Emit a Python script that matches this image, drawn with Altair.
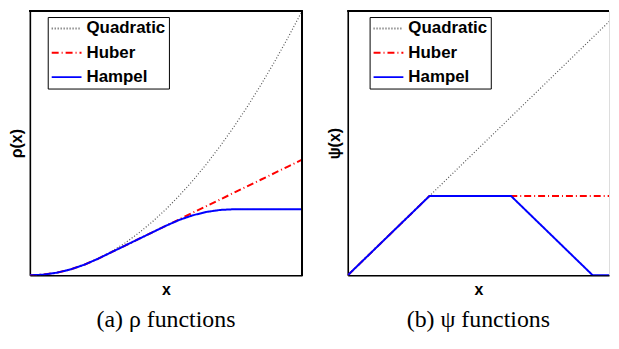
import altair as alt
import pandas as pd

series_names = ["Quadratic", "Huber", "Hampel"]
series_colors = ["#555555", "#ff0000", "#0000ff"]
series_dash = [[1, 2], [7, 3, 1, 3], [1, 0]]

# (a) rho functions
rho_x = [0, 0.2, 0.4, 0.6, 0.8, 1.0, 1.2, 1.4, 1.6, 1.8, 2.0, 2.2, 2.4, 2.6, 2.8, 3.0, 3.2, 3.4, 3.6, 3.8, 4.0]
rho_quadratic = [0, 0.02, 0.08, 0.18, 0.32, 0.5, 0.72, 0.98, 1.28, 1.62, 2.0, 2.42, 2.88, 3.38, 3.92, 4.5, 5.12, 5.78, 6.48, 7.22, 8.0]
rho_huber = [0, 0.02, 0.08, 0.18, 0.32, 0.5, 0.7, 0.9, 1.1, 1.3, 1.5, 1.7, 1.9, 2.1, 2.3, 2.5, 2.7, 2.9, 3.1, 3.3, 3.5]
rho_hampel = [0, 0.02, 0.08, 0.18, 0.32, 0.5, 0.7, 0.9, 1.1, 1.3, 1.5, 1.68, 1.82, 1.92, 1.98, 2.0, 2.0, 2.0, 2.0, 2.0, 2.0]

# (b) psi functions (right edge of the panel is cut off in the reference)
psi_quad_x = [0, 10]
psi_quadratic = [0, 10]
psi_huber_x = [0, 3, 10]
psi_huber = [0, 3, 3]
psi_hampel_x = [0, 3, 6, 9, 10]
psi_hampel = [0, 3, 3, 0, 0]

rho_df = pd.concat([
    pd.DataFrame({"x": rho_x, "y": rho_quadratic, "s": "Quadratic"}),
    pd.DataFrame({"x": rho_x, "y": rho_huber, "s": "Huber"}),
    pd.DataFrame({"x": rho_x, "y": rho_hampel, "s": "Hampel"}),
])
psi_df = pd.concat([
    pd.DataFrame({"x": psi_quad_x, "y": psi_quadratic, "s": "Quadratic"}),
    pd.DataFrame({"x": psi_huber_x, "y": psi_huber, "s": "Huber"}),
    pd.DataFrame({"x": psi_hampel_x, "y": psi_hampel, "s": "Hampel"}),
])

H = 266


def panel(df, xmin, xmax, ymax, width, ytitle, caption, legend_x, right_border):
    legend = alt.Legend(
        title=None, orient="none", legendX=legend_x, legendY=6,
        strokeColor="black", fillColor="white", padding=3,
        labelFont="Liberation Sans", labelFontWeight="bold", labelFontSize=17,
        labelColor="black", labelOffset=4,
        symbolType="stroke", symbolSize=900, symbolStrokeWidth=2,
        clipHeight=17, rowPadding=6.5,
    )
    color = alt.Color("s:N", scale=alt.Scale(domain=series_names, range=series_colors), legend=legend)
    dash = alt.StrokeDash("s:N", scale=alt.Scale(domain=series_names, range=series_dash), legend=legend)
    xenc = alt.X("x:Q", scale=alt.Scale(domain=[xmin, xmax], nice=False, zero=False),
                 axis=alt.Axis(title="x", labels=False, ticks=False, grid=False, domain=True,
                               domainColor="black", domainWidth=1.6,
                               titleFont="Liberation Sans", titleFontSize=16, titleFontWeight="bold",
                               titlePadding=6, titleColor="black"))
    yenc = alt.Y("y:Q", scale=alt.Scale(domain=[0, ymax], nice=False, zero=False),
                 axis=alt.Axis(title=ytitle, labels=False, ticks=False, grid=False, domain=True,
                               domainColor="black", domainWidth=1.6,
                               titleFont="Liberation Sans", titleFontSize=16, titleFontWeight="bold",
                               titlePadding=5, titleColor="black"))
    layers = []
    for name, w in [("Quadratic", 1.2), ("Huber", 2), ("Hampel", 2)]:
        layers.append(
            alt.Chart(df).transform_filter(alt.datum.s == name)
            .mark_line(strokeWidth=w, clip=True)
            .encode(x=xenc, y=yenc, color=color, strokeDash=dash)
        )
    # frame: top edge, and right edge where the panel is not cut off
    frame = alt.Chart(df).mark_rule(color="black", strokeWidth=1.6).encode(
        x=alt.value(0), x2=alt.value(width), y=alt.value(0)
    )
    layers.append(frame)
    if right_border:
        layers.append(alt.Chart(df).mark_rule(color="black", strokeWidth=1.6).encode(
            x=alt.value(width), y=alt.value(0), y2=alt.value(H)
        ))
    return alt.layer(*layers).properties(
        width=width, height=H,
        title=alt.TitleParams(caption, orient="bottom", font="Liberation Serif", fontSize=24,
                              fontWeight="normal", color="black", offset=11),
    )


left = panel(rho_df, 0, 4, 8, 274, "ρ(x)", "(a) ρ functions", 18, True)
right = panel(psi_df, 0, 10 * 263 / 274, 10, 263, "ψ(x)", "(b) ψ functions", 22, False)

chart = alt.hconcat(left, right, spacing=22).resolve_scale(
    color="independent", strokeDash="independent"
).resolve_legend(color="independent", strokeDash="independent").configure_view(
    stroke=None
).configure(padding=0, background="white")

chart.save("out.html", embed_options={"renderer": "svg", "actions": False})
